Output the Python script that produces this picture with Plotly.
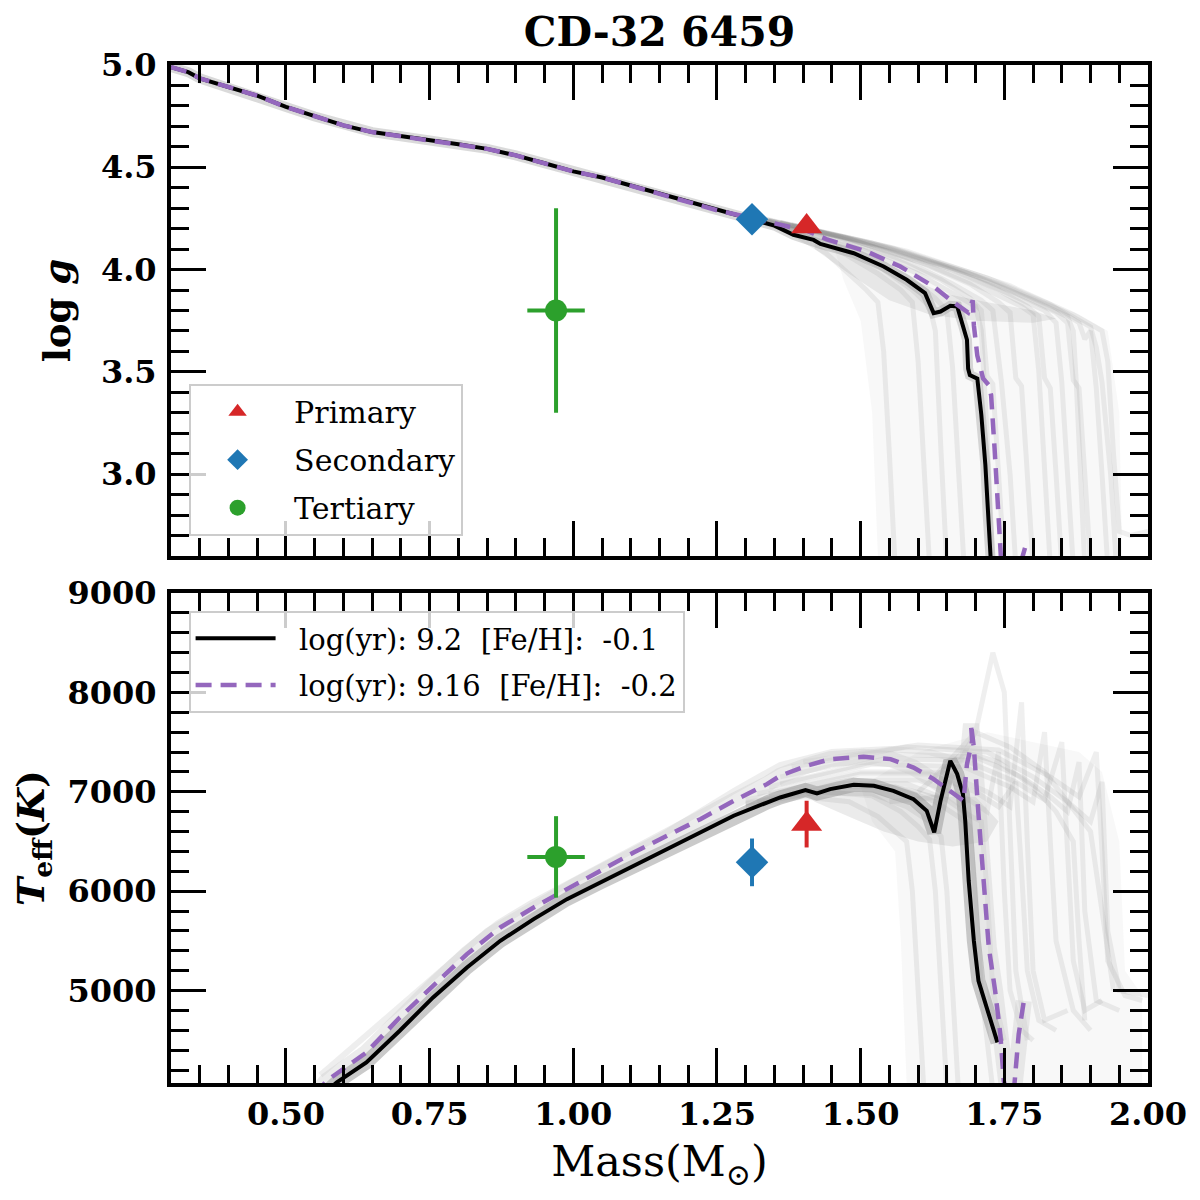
import plotly.graph_objects as go

# ---------------- data ----------------
# Best-fit isochrone 1 (black, solid): log(yr)=9.2, [Fe/H]=-0.1
top_black_mass = [0.30, 0.33, 0.35, 0.40, 0.45, 0.50, 0.55, 0.60, 0.65, 0.70, 0.75, 0.80, 0.85, 0.90,
                  0.95, 1.00, 1.05, 1.10, 1.15, 1.20, 1.25, 1.30, 1.35, 1.383, 1.418, 1.43, 1.488, 1.54,
                  1.58, 1.612, 1.627, 1.639, 1.656, 1.668, 1.679, 1.685, 1.687, 1.69, 1.703, 1.71, 1.717,
                  1.721, 1.727]
top_black_logg = [4.99, 4.965, 4.935, 4.892, 4.85, 4.795, 4.748, 4.705, 4.672, 4.652, 4.635, 4.613, 4.59,
                  4.558, 4.52, 4.48, 4.45, 4.41, 4.375, 4.335, 4.29, 4.255, 4.215, 4.17, 4.145, 4.125,
                  4.08, 4.015, 3.95, 3.885, 3.787, 3.795, 3.823, 3.82, 3.72, 3.657, 3.516, 3.484, 3.467,
                  3.29, 3.045, 2.80, 2.55]

# Best-fit isochrone 2 (purple, dashed): log(yr)=9.16, [Fe/H]=-0.2
top_purple_mass = [0.30, 0.33, 0.35, 0.40, 0.45, 0.50, 0.55, 0.60, 0.65, 0.70, 0.75, 0.80, 0.85, 0.90,
                   0.95, 1.00, 1.05, 1.10, 1.15, 1.20, 1.25, 1.30, 1.337, 1.406, 1.441, 1.511, 1.569,
                   1.627, 1.656, 1.679, 1.687, 1.695, 1.697, 1.703, 1.713, 1.723, 1.727, 1.733, 1.74,
                   1.745, 1.762, 1.778, 1.786]
top_purple_logg = [4.99, 4.965, 4.935, 4.892, 4.85, 4.795, 4.748, 4.705, 4.672, 4.652, 4.635, 4.613, 4.59,
                   4.558, 4.52, 4.48, 4.45, 4.41, 4.375, 4.335, 4.29, 4.258, 4.235, 4.19, 4.148, 4.088,
                   4.015, 3.917, 3.852, 3.803, 3.79, 3.85, 3.727, 3.58, 3.468, 3.435, 3.386, 3.127, 2.80,
                   2.55, 2.45, 2.56, 2.64]

bot_black_mass = [0.565, 0.588, 0.64, 0.698, 0.756, 0.815, 0.873, 0.931, 0.989, 1.047, 1.105, 1.163, 1.221,
                  1.279, 1.337, 1.36, 1.404, 1.424, 1.447, 1.488, 1.523, 1.557, 1.592, 1.615, 1.628, 1.639,
                  1.656, 1.668, 1.678, 1.682, 1.688, 1.697, 1.705, 1.720, 1.738]
bot_black_teff = [3950, 4075, 4277, 4596, 4931, 5233, 5501, 5719, 5920, 6088, 6256, 6424, 6591, 6759, 6892,
                  6943, 7017, 6983, 7027, 7070, 7060, 7010, 6926, 6809, 6591, 6909, 7312, 7178, 6976, 6708,
                  6105, 5501, 5099, 4830, 4478]

bot_purple_mass = [0.55, 0.571, 0.64, 0.698, 0.756, 0.815, 0.873, 0.931, 0.989, 1.047, 1.105, 1.163, 1.221,
                   1.279, 1.337, 1.36, 1.406, 1.447, 1.505, 1.552, 1.592, 1.627, 1.656, 1.679, 1.685, 1.694,
                   1.692, 1.697, 1.705, 1.714, 1.723, 1.734, 1.743, 1.749, 1.756, 1.766, 1.775, 1.784]
bot_purple_teff = [3950, 4093, 4377, 4729, 5048, 5367, 5635, 5836, 6021, 6205, 6389, 6557, 6725, 6909, 7077,
                   7161, 7262, 7329, 7352, 7329, 7244, 7128, 7010, 6909, 7279, 7513, 7681, 7446, 6776, 6105,
                   5434, 4998, 4562, 4092, 3950, 3950, 4560, 4897]

# faint upper envelope of the sampled isochrones (lower panel)
bot_upper_mass = [0.56, 0.70, 0.85, 1.00, 1.15, 1.28, 1.36, 1.45, 1.55, 1.62, 1.68]
bot_upper_teff = [4150, 4850, 5600, 6100, 6550, 7010, 7270, 7400, 7430, 7400, 7300]

# outlines of the regions covered by the sampled isochrones (light haze and dense core)
top_fan_mass = [1.45, 1.60, 1.75, 1.88, 1.93, 1.95, 1.955, 1.53, 1.52, 1.50, 1.47]
top_fan_logg = [4.15, 4.04, 3.92, 3.78, 3.70, 3.30, 2.60, 2.60, 3.30, 3.75, 3.95]
top_core_mass = [1.42, 1.50, 1.58, 1.65, 1.72, 1.80, 1.84, 1.80, 1.70, 1.62, 1.55, 1.48, 1.42]
top_core_logg = [4.14, 4.06, 3.96, 3.88, 3.84, 3.80, 3.76, 3.74, 3.75, 3.78, 3.85, 3.98, 4.10]
bot_fan_mass = [1.50, 1.60, 1.72, 1.80, 1.88, 1.92, 1.95, 1.96, 1.99, 1.99, 1.58, 1.57, 1.56, 1.52]
bot_fan_teff = [7050, 7400, 7600, 7500, 7400, 7200, 6500, 5200, 4950, 4070, 4070, 5500, 6400, 6700]
bot_core_mass = [1.40, 1.50, 1.58, 1.64, 1.70, 1.74, 1.72, 1.66, 1.60, 1.54, 1.48, 1.42]
bot_core_teff = [7000, 7100, 7050, 6950, 6950, 6700, 6500, 6450, 6500, 6600, 6750, 6900]

# Sampled (posterior) isochrones, grey, upper panel: mass / log g
g1_m = [1.30, 1.38, 1.44, 1.48, 1.51, 1.53, 1.54, 1.55, 1.56]
g1_v = [4.26, 4.18, 4.08, 3.98, 3.90, 3.84, 3.60, 3.10, 2.55]
g2_m = [1.30, 1.40, 1.47, 1.53, 1.57, 1.59, 1.60, 1.61, 1.62]
g2_v = [4.26, 4.17, 4.08, 3.98, 3.90, 3.84, 3.55, 3.05, 2.55]
g3_m = [1.30, 1.42, 1.52, 1.59, 1.63, 1.65, 1.66, 1.67, 1.68]
g3_v = [4.26, 4.17, 4.06, 3.95, 3.86, 3.80, 3.52, 3.00, 2.55]
g4_m = [1.30, 1.45, 1.56, 1.64, 1.69, 1.71, 1.72, 1.73, 1.74, 1.75]
g4_v = [4.26, 4.16, 4.05, 3.95, 3.86, 3.80, 3.48, 3.44, 3.00, 2.55]
g5_m = [1.30, 1.47, 1.60, 1.69, 1.74, 1.76, 1.77, 1.78, 1.79, 1.80]
g5_v = [4.26, 4.16, 4.04, 3.93, 3.84, 3.79, 3.47, 3.43, 3.00, 2.55]
g6_m = [1.32, 1.50, 1.64, 1.74, 1.79, 1.81, 1.82, 1.83, 1.84, 1.85]
g6_v = [4.25, 4.14, 4.02, 3.90, 3.82, 3.77, 3.47, 3.42, 3.00, 2.55]
g7_m = [1.34, 1.52, 1.68, 1.78, 1.84, 1.86, 1.87, 1.88, 1.89, 1.90]
g7_v = [4.24, 4.13, 3.99, 3.87, 3.79, 3.74, 3.46, 3.42, 3.00, 2.55]
g8_m = [1.36, 1.55, 1.72, 1.83, 1.88, 1.89, 1.90, 1.91, 1.92, 1.93]
g8_v = [4.23, 4.11, 3.96, 3.83, 3.74, 3.66, 3.70, 3.42, 3.00, 2.55]
g9_m = [1.38, 1.58, 1.76, 1.87, 1.92, 1.93, 1.94, 1.95, 1.97, 2.00]
g9_v = [4.22, 4.09, 3.92, 3.78, 3.70, 3.55, 3.10, 2.72, 2.70, 2.72]
g10_m = [1.35, 1.50, 1.60, 1.66, 1.70, 1.71, 1.72, 1.73]
g10_v = [4.22, 4.10, 3.98, 3.88, 3.82, 3.70, 3.20, 2.55]
g11_m = [1.33, 1.48, 1.62, 1.72, 1.78, 1.80, 1.81, 1.82, 1.83]
g11_v = [4.25, 4.15, 4.02, 3.90, 3.82, 3.78, 3.50, 3.00, 2.55]
g12_m = [1.31, 1.46, 1.58, 1.66, 1.71, 1.73, 1.745, 1.76, 1.77]
g12_v = [4.26, 4.16, 4.04, 3.93, 3.85, 3.80, 3.45, 3.00, 2.55]
g13_m = [1.37, 1.56, 1.74, 1.85, 1.90, 1.91, 1.92, 1.935, 1.945]
g13_v = [4.22, 4.10, 3.93, 3.80, 3.72, 3.62, 3.45, 3.00, 2.55]
g14_m = [1.32, 1.44, 1.53, 1.59, 1.62, 1.63, 1.64, 1.65]
g14_v = [4.25, 4.14, 4.02, 3.90, 3.82, 3.70, 3.10, 2.55]
g15_m = [1.36, 1.54, 1.70, 1.80, 1.86, 1.87, 1.875, 1.88, 1.89]
g15_v = [4.23, 4.11, 3.97, 3.85, 3.77, 3.70, 3.46, 3.10, 2.55]
g16_m = [1.34, 1.50, 1.66, 1.76, 1.82, 1.84, 1.85, 1.86, 1.87]
g16_v = [4.24, 4.13, 4.00, 3.88, 3.80, 3.74, 3.45, 3.00, 2.55]

# Sampled isochrones, grey, lower panel: mass / Teff
t1_m = [1.30, 1.40, 1.48, 1.53, 1.56, 1.58, 1.59, 1.60, 1.61]
t1_v = [6850, 6950, 6900, 6750, 6600, 6500, 6000, 5000, 4000]
t2_m = [1.30, 1.42, 1.52, 1.58, 1.62, 1.64, 1.65, 1.66, 1.67]
t2_v = [6870, 6990, 6980, 6850, 6700, 6550, 6000, 5000, 4000]
t3_m = [1.30, 1.45, 1.56, 1.63, 1.67, 1.69, 1.70, 1.71, 1.73]
t3_v = [6890, 7050, 7050, 6900, 6750, 6650, 6000, 5000, 4000]
t4_m = [1.30, 1.48, 1.60, 1.68, 1.72, 1.74, 1.75, 1.76, 1.78, 1.80]
t4_v = [6920, 7120, 7120, 6950, 6800, 7400, 6000, 5000, 4600, 4500]
t5_m = [1.32, 1.50, 1.64, 1.72, 1.76, 1.78, 1.79, 1.80, 1.82, 1.86]
t5_v = [6980, 7200, 7200, 7000, 6850, 7900, 6500, 5200, 4700, 4800]
t6_m = [1.34, 1.52, 1.68, 1.76, 1.80, 1.82, 1.83, 1.84, 1.87, 1.90]
t6_v = [7050, 7280, 7250, 7050, 6900, 7600, 6500, 5500, 4800, 4600]
t7_m = [1.36, 1.55, 1.70, 1.78, 1.83, 1.86, 1.88, 1.89, 1.91, 1.95]
t7_v = [7150, 7380, 7350, 7150, 6950, 6800, 7300, 5800, 4900, 4800]
t8_m = [1.38, 1.58, 1.72, 1.80, 1.86, 1.90, 1.92, 1.93, 1.95, 2.00]
t8_v = [7250, 7450, 7400, 7150, 6900, 6700, 7100, 5600, 5000, 4950]
t9_m = [1.55, 1.64, 1.70, 1.73, 1.75, 1.76, 1.77, 1.79]
t9_v = [6900, 6950, 7600, 8400, 8000, 6500, 5200, 4500]
t10_m = [1.60, 1.68, 1.74, 1.80, 1.84, 1.87, 1.88, 1.89]
t10_v = [7000, 7400, 7300, 7050, 6800, 6500, 5500, 4700]
t11_m = [1.32, 1.46, 1.58, 1.65, 1.69, 1.71, 1.72, 1.73, 1.75]
t11_v = [6900, 7080, 7080, 6920, 6760, 6700, 6000, 5000, 4500]
t12_m = [1.34, 1.50, 1.62, 1.70, 1.74, 1.77, 1.78, 1.79, 1.81, 1.84]
t12_v = [6980, 7180, 7180, 7000, 6850, 7100, 6200, 5200, 4700, 4600]
t13_m = [1.36, 1.54, 1.68, 1.77, 1.82, 1.85, 1.86, 1.87, 1.89, 1.92]
t13_v = [7080, 7330, 7320, 7100, 6920, 7500, 6400, 5300, 4800, 4900]
t14_m = [1.40, 1.60, 1.74, 1.83, 1.88, 1.91, 1.92, 1.93, 1.96, 1.99]
t14_v = [7300, 7470, 7420, 7150, 6950, 7400, 6400, 5300, 4950, 4900]
t15_m = [1.30, 1.43, 1.52, 1.57, 1.60, 1.62, 1.63, 1.64, 1.65]
t15_v = [6880, 7000, 6960, 6800, 6650, 6520, 6000, 5000, 4000]
t16_m = [1.62, 1.70, 1.76, 1.82, 1.86, 1.90, 1.92, 1.94]
t16_v = [7100, 7600, 7450, 7200, 6900, 6600, 5800, 5000]

# Observed components
star_names = ["Primary", "Secondary", "Tertiary"]
star_colors = ["#d62728", "#1f77b4", "#2ca02c"]
star_symbols = ["triangle-up", "diamond", "circle"]
star_mass = [1.406, 1.311, 0.97]
star_mass_err = [0.0, 0.0, 0.05]
star_logg = [4.21, 4.246, 3.80]
star_logg_err = [0.0, 0.0, 0.50]
star_teff = [6675, 6290, 6345]
star_teff_err = [235, 240, 410]
star_sizes = [27, 25, 22]

iso_labels = ["log(yr):\u00a09.2\u00a0\u00a0[Fe/H]:\u00a0\u00a0-0.1",
              "log(yr):\u00a09.16\u00a0\u00a0[Fe/H]:\u00a0\u00a0-0.2"]

# ---------------- figure ----------------
fig = go.Figure()

GREY = "rgba(120,120,120,0.12)"

# haze regions
fig.add_trace(go.Scatter(x=top_fan_mass, y=top_fan_logg, mode="lines", fill="toself", xaxis="x", yaxis="y",
                         fillcolor="rgba(128,128,128,0.06)", line=dict(width=0), showlegend=False,
                         hoverinfo="skip"))
fig.add_trace(go.Scatter(x=top_core_mass, y=top_core_logg, mode="lines", fill="toself", xaxis="x", yaxis="y",
                         fillcolor="rgba(128,128,128,0.14)", line=dict(width=0), showlegend=False,
                         hoverinfo="skip"))
fig.add_trace(go.Scatter(x=bot_fan_mass, y=bot_fan_teff, mode="lines", fill="toself", xaxis="x2", yaxis="y2",
                         fillcolor="rgba(128,128,128,0.06)", line=dict(width=0), showlegend=False,
                         hoverinfo="skip"))
fig.add_trace(go.Scatter(x=bot_core_mass, y=bot_core_teff, mode="lines", fill="toself", xaxis="x2", yaxis="y2",
                         fillcolor="rgba(128,128,128,0.16)", line=dict(width=0), showlegend=False,
                         hoverinfo="skip"))

top_gray = [(g1_m, g1_v), (g2_m, g2_v), (g3_m, g3_v), (g4_m, g4_v), (g5_m, g5_v),
            (g6_m, g6_v), (g7_m, g7_v), (g8_m, g8_v), (g9_m, g9_v), (g10_m, g10_v),
            (g11_m, g11_v), (g12_m, g12_v), (g13_m, g13_v), (g14_m, g14_v), (g15_m, g15_v),
            (g16_m, g16_v)]
bot_gray = [(t1_m, t1_v), (t2_m, t2_v), (t3_m, t3_v), (t4_m, t4_v), (t5_m, t5_v),
            (t6_m, t6_v), (t7_m, t7_v), (t8_m, t8_v), (t9_m, t9_v), (t10_m, t10_v),
            (t11_m, t11_v), (t12_m, t12_v), (t13_m, t13_v), (t14_m, t14_v), (t15_m, t15_v),
            (t16_m, t16_v)]

for mx, vy in top_gray:
    fig.add_trace(go.Scatter(x=mx, y=vy, mode="lines", xaxis="x", yaxis="y",
                             line=dict(color=GREY, width=5), showlegend=False, hoverinfo="skip"))
for mx, vy in bot_gray:
    fig.add_trace(go.Scatter(x=mx, y=vy, mode="lines", xaxis="x2", yaxis="y2",
                             line=dict(color=GREY, width=5), showlegend=False, hoverinfo="skip"))

# halos around the best isochrones (dense sample region)
fig.add_trace(go.Scatter(x=top_black_mass, y=top_black_logg, mode="lines", xaxis="x", yaxis="y",
                         line=dict(color="rgba(150,150,150,0.35)", width=10), showlegend=False,
                         hoverinfo="skip"))
fig.add_trace(go.Scatter(x=bot_upper_mass, y=bot_upper_teff, mode="lines", xaxis="x2", yaxis="y2",
                         line=dict(color="rgba(200,200,200,0.3)", width=6), showlegend=False,
                         hoverinfo="skip"))
fig.add_trace(go.Scatter(x=bot_purple_mass, y=bot_purple_teff, mode="lines", xaxis="x2", yaxis="y2",
                         line=dict(color="rgba(200,200,200,0.35)", width=16), showlegend=False,
                         hoverinfo="skip"))
fig.add_trace(go.Scatter(x=bot_black_mass, y=bot_black_teff, mode="lines", xaxis="x2", yaxis="y2",
                         line=dict(color="rgba(150,150,150,0.5)", width=14), showlegend=False,
                         hoverinfo="skip"))

# best isochrones
fig.add_trace(go.Scatter(x=top_black_mass, y=top_black_logg, mode="lines", xaxis="x", yaxis="y",
                         line=dict(color="black", width=4), showlegend=False))
fig.add_trace(go.Scatter(x=top_purple_mass, y=top_purple_logg, mode="lines", xaxis="x", yaxis="y",
                         line=dict(color="#9467bd", width=4.5, dash="16px,9px"), showlegend=False))
fig.add_trace(go.Scatter(x=bot_black_mass, y=bot_black_teff, mode="lines", xaxis="x2", yaxis="y2",
                         line=dict(color="black", width=4),
                         name="\u00a0\u00a0" + iso_labels[0], legend="legend2", legendgroup="iso1"))
fig.add_trace(go.Scatter(x=bot_purple_mass, y=bot_purple_teff, mode="lines", xaxis="x2", yaxis="y2",
                         line=dict(color="#9467bd", width=4.5, dash="16px,9px"),
                         name="\u00a0\u00a0" + iso_labels[1], legend="legend2", legendgroup="iso2"))

# stars
for i in range(3):
    ex = dict(type="data", array=[star_mass_err[i]], color=star_colors[i], thickness=4, width=0,
              visible=star_mass_err[i] > 0)
    fig.add_trace(go.Scatter(x=[star_mass[i]], y=[star_logg[i]], mode="markers", xaxis="x", yaxis="y",
                             marker=dict(symbol=star_symbols[i], size=star_sizes[i], color=star_colors[i],
                                         line=dict(width=0)),
                             error_x=ex,
                             error_y=dict(type="data", array=[star_logg_err[i]], color=star_colors[i],
                                          thickness=4, width=0, visible=star_logg_err[i] > 0),
                             name="\u00a0" + star_names[i], legend="legend", legendgroup=star_names[i]))
for i in range(3):
    ex = dict(type="data", array=[star_mass_err[i]], color=star_colors[i], thickness=4, width=0,
              visible=star_mass_err[i] > 0)
    fig.add_trace(go.Scatter(x=[star_mass[i]], y=[star_teff[i]], mode="markers", xaxis="x2", yaxis="y2",
                             marker=dict(symbol=star_symbols[i], size=star_sizes[i], color=star_colors[i],
                                         line=dict(width=0)),
                             error_x=ex,
                             error_y=dict(type="data", array=[star_teff_err[i]], color=star_colors[i],
                                          thickness=4, width=0),
                             showlegend=False))

tickfont = dict(family="DejaVu Serif", size=32, color="black", weight="bold")
common = dict(showline=True, linewidth=4, linecolor="black", mirror="allticks",
              ticks="inside", ticklen=35, tickwidth=2.5, tickcolor="black",
              showgrid=False, zeroline=False, tickfont=tickfont)
minor_common = dict(ticks="inside", ticklen=18, tickwidth=2.5, tickcolor="black", showgrid=False)

# the page body adds an 8 px offset; the figure is sized so the plot areas land where the reference has them
W = 1192
H = 1192

fig.update_layout(
    width=W, height=H,
    paper_bgcolor="white", plot_bgcolor="white",
    margin=dict(l=163, r=52, t=57, b=117),
    title=dict(text="CD-32 6459", x=0.5, xref="paper", xanchor="center",
               y=1 - 24 / H, yref="container", yanchor="middle",
               font=dict(family="DejaVu Serif", size=41, color="black", weight="bold")),
    xaxis=dict(domain=[0, 1], anchor="y", range=[0.3, 2.0], tick0=0, dtick=0.25,
               showticklabels=False, minor=dict(dtick=0.05, **minor_common), **common),
    yaxis=dict(domain=[0.5177, 1], anchor="x", range=[2.6, 5.0], tick0=0, dtick=0.5,
               tickformat=".1f", ticklabelstandoff=4,
               title=dict(text="log\u00a0<i>g</i>", standoff=20,
                          font=dict(family="DejaVu Serif", size=37, color="black", weight="bold")),
               minor=dict(dtick=0.1, **minor_common), **common),
    xaxis2=dict(domain=[0, 1], anchor="y2", range=[0.3, 2.0], tick0=0, dtick=0.25,
                matches="x", tickformat=".2f",
                title=dict(text="Mass(M<sub>\u2299</sub>)", standoff=14,
                           font=dict(family="DejaVu Serif", size=43, color="black")),
                minor=dict(dtick=0.05, **minor_common), **common),
    yaxis2=dict(domain=[0, 0.4813], anchor="x2", range=[4070, 9000], tick0=0, dtick=1000,
                tickformat="d", ticklabelstandoff=4,
                title=dict(text="<i>T</i><sub>eff</sub>(<i>K</i>)", standoff=16,
                           font=dict(family="DejaVu Serif", size=38, color="black", weight="bold")),
                minor=dict(dtick=200, **minor_common), **common),
    legend=dict(x=0.018, y=0.687, xref="paper", yref="paper", xanchor="left", yanchor="top",
                bgcolor="rgba(255,255,255,0.8)", bordercolor="#cccccc", borderwidth=2,
                font=dict(family="DejaVu Serif", size=30, color="black"),
                itemwidth=84, tracegroupgap=6, traceorder="grouped"),
    legend2=dict(x=0.018, y=0.4637, xref="paper", yref="paper", xanchor="left", yanchor="top",
                 bgcolor="rgba(255,255,255,0.8)", bordercolor="#cccccc", borderwidth=2,
                 font=dict(family="DejaVu Serif", size=29, color="black"),
                 itemwidth=80, tracegroupgap=6, traceorder="grouped"),
)

fig.write_html("out.html")
